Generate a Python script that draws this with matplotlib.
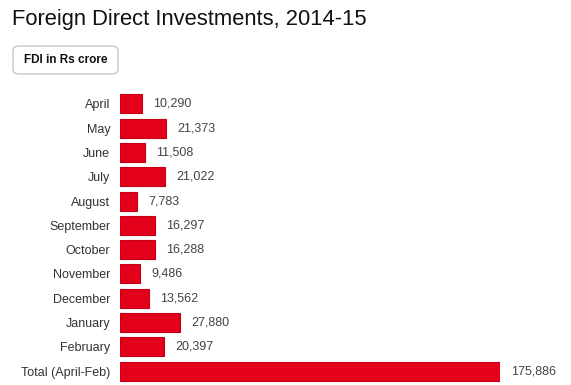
import matplotlib.pyplot as plt
from matplotlib.patches import FancyBboxPatch

plt.rcParams['font.family'] = ['Liberation Sans', 'DejaVu Sans']

# data
months = ['April', 'May', 'June', 'July', 'August', 'September', 'October',
          'November', 'December', 'January', 'February', 'Total (April-Feb)']
fdi = [10290, 21373, 11508, 21022, 7783, 16297, 16288, 9486, 13562, 27880, 20397, 175886]

W, H = 571, 385
fig = plt.figure(figsize=(W / 100, H / 100), dpi=100)

# axes placed in pixel terms
left, right = 120, 500
top, bottom = 91.8, 383.2
ax = fig.add_axes([left / W, 1 - bottom / H, (right - left) / W, (bottom - top) / H])

y = range(len(months))
ax.barh(y, fdi, height=0.78, color='#e3001b', edgecolor='#c40016', linewidth=0.8)
ax.set_xlim(0, 175886)
ax.set_ylim(len(months) - 0.5, -0.5)

for i, v in enumerate(fdi):
    ax.annotate(f'{v:,}', (v, i), xytext=(8, 0), textcoords='offset points',
                va='center', ha='left', fontsize=9, color='#444444', annotation_clip=False)

ax.set_yticks(list(y))
ax.set_yticklabels(months, fontsize=9, color='#333333')
ax.tick_params(axis='y', length=0, pad=7)
ax.set_xticks([])
for s in ax.spines.values():
    s.set_visible(False)

# title and the little "button"
fig.text(12 / W, 1 - 20 / H, 'Foreign Direct Investments, 2014-15', fontsize=15.8,
         va='center', ha='left', color='#111111')
box = FancyBboxPatch((13 / W, 1 - 74 / H), 105 / W, 28 / H,
                     boxstyle='round,pad=0,rounding_size=0.012',
                     transform=fig.transFigure, facecolor='white',
                     edgecolor='#bbbbbb', linewidth=0.8)
fig.patches.append(box)
fig.text(66 / W, 1 - 60 / H, 'FDI in Rs crore', fontsize=8.5, fontweight='bold',
         va='center', ha='center', color='#111111')

fig.savefig('out.png', dpi=100)
